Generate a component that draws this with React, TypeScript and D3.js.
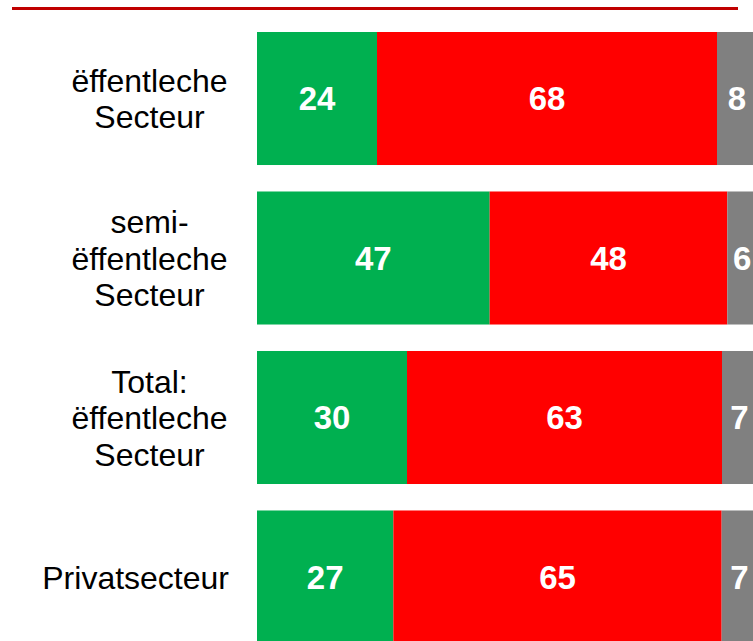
import React from "react";
import * as d3 from "d3";

const categories = [
  ["ëffentleche", "Secteur"],
  ["semi-", "ëffentleche", "Secteur"],
  ["Total:", "ëffentleche", "Secteur"],
  ["Privatsecteur"],
];
const positive = [24, 47, 30, 27];
const negative = [68, 48, 63, 65];
const unknown = [8, 6, 7, 7];
const seriesKeys = ["positive", "negative", "unknown"];
const colors = ["#00B050", "#FF0000", "#808080"];

const W = 753;
const H = 641;

export default function App() {
  const rows = categories.map((c, i) => ({
    key: String(i),
    label: c,
    positive: positive[i],
    negative: negative[i],
    unknown: unknown[i],
  }));
  const stack = d3
    .stack<any>()
    .keys(seriesKeys)
    .offset(d3.stackOffsetExpand);
  const series = stack(rows);

  const x = d3.scaleLinear().domain([0, 1]).range([257, 757]);
  const y = d3
    .scaleBand()
    .domain(rows.map((r) => r.key))
    .range([32, 643.5])
    .paddingInner(0.166)
    .paddingOuter(0);

  const lineH = 36.5;
  const font = "Liberation Sans, Arial, Helvetica, sans-serif";

  return (
    <svg
      width={W}
      height={H}
      style={{ position: "fixed", left: 0, top: 0, display: "block", background: "#fff" }}
      fontFamily={font}
    >
      <rect x={12} y={7} width={726} height={3} fill="#C00000" />
      {series.map((s, si) => (
        <g key={si} fill={colors[si]}>
          {s.map((d, i) => (
            <rect
              key={i}
              x={x(d[0])}
              y={y(rows[i].key)}
              width={x(d[1]) - x(d[0])}
              height={y.bandwidth()}
            />
          ))}
        </g>
      ))}
      {series.map((s, si) => (
        <g key={"t" + si}>
          {s.map((d, i) => (
            <text
              key={i}
              x={(x(d[0]) + x(d[1])) / 2}
              y={(y(rows[i].key) as number) + y.bandwidth() / 2}
              dy="0.36em"
              textAnchor="middle"
              fill="#fff"
              fontWeight="bold"
              fontSize={33}
            >
              {(rows[i] as any)[seriesKeys[si]]}
            </text>
          ))}
        </g>
      ))}
      {rows.map((r, i) => {
        const cy = (y(r.key) as number) + y.bandwidth() / 2;
        const n = r.label.length;
        const single = n === 1;
        return (
          <text
            key={"l" + i}
            fontSize={32}
            fill="#000"
            textAnchor={single ? "end" : "middle"}
          >
            {r.label.map((line, li) => (
              <tspan
                key={li}
                x={single ? 229 : 149.5}
                y={cy + (li - (n - 1) / 2) * lineH}
                dy="0.36em"
              >
                {line}
              </tspan>
            ))}
          </text>
        );
      })}
    </svg>
  );
}
